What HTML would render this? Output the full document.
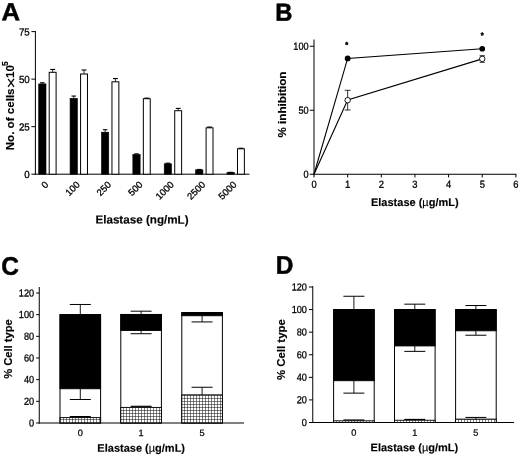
<!DOCTYPE html>
<html lang="en">
<head>
<meta charset="utf-8">
<title>Figure</title>
<style>
html,body{margin:0;padding:0;background:#fff;}
svg{display:block;}
text{font-family:'Liberation Sans', sans-serif;fill:#000;}
</style>
</head>
<body>
<svg width="520" height="456" viewBox="0 0 520 456">
<rect x="0" y="0" width="520" height="456" fill="#fff"/>
<g style="filter:blur(0.35px)">
<text transform="translate(1.6 20.35) rotate(0.05) scale(1.027 0.994)" font-size="25.0" font-weight="bold" stroke="#000" stroke-width="0.5">A</text>
<text transform="translate(275.25 20.85) rotate(0.05) scale(0.95 0.99)" font-size="25.0" font-weight="bold" stroke="#000" stroke-width="0.5">B</text>
<text transform="translate(1.25 274.65) rotate(0.05) scale(0.98 1.016)" font-size="25.0" font-weight="bold" stroke="#000" stroke-width="0.5">C</text>
<text transform="translate(275.65 273.75) rotate(0.05) scale(0.98 1.023)" font-size="25.0" font-weight="bold" stroke="#000" stroke-width="0.5">D</text>
<line x1="35.40" y1="31.10" x2="35.40" y2="174.70" stroke="#000" stroke-width="1"/>
<line x1="34.90" y1="174.20" x2="249.50" y2="174.20" stroke="#000" stroke-width="1"/>
<line x1="31.40" y1="174.20" x2="35.40" y2="174.20" stroke="#000" stroke-width="1"/>
<text transform="translate(29.80 178.10) rotate(0.05) scale(0.95 1)" font-size="10.3" text-anchor="end" stroke="#000" stroke-width="0.3">0</text>
<line x1="31.40" y1="126.67" x2="35.40" y2="126.67" stroke="#000" stroke-width="1"/>
<text transform="translate(29.80 130.57) rotate(0.05) scale(0.95 1)" font-size="10.3" text-anchor="end" stroke="#000" stroke-width="0.3">25</text>
<line x1="31.40" y1="79.13" x2="35.40" y2="79.13" stroke="#000" stroke-width="1"/>
<text transform="translate(29.80 83.03) rotate(0.05) scale(0.95 1)" font-size="10.3" text-anchor="end" stroke="#000" stroke-width="0.3">50</text>
<line x1="31.40" y1="31.60" x2="35.40" y2="31.60" stroke="#000" stroke-width="1"/>
<text transform="translate(29.80 35.50) rotate(0.05) scale(0.95 1)" font-size="10.3" text-anchor="end" stroke="#000" stroke-width="0.3">75</text>
<rect x="38.70" y="83.89" width="7.30" height="90.31" fill="#000" stroke="#000" stroke-width="0.6"/>
<line x1="42.35" y1="83.89" x2="42.35" y2="82.75" stroke="#000" stroke-width="0.8"/>
<line x1="40.10" y1="82.75" x2="44.60" y2="82.75" stroke="#000" stroke-width="1.1"/>
<rect x="49.20" y="72.29" width="6.90" height="101.91" fill="#fff" stroke="#000" stroke-width="1"/>
<line x1="52.65" y1="72.29" x2="52.65" y2="69.44" stroke="#000" stroke-width="0.8"/>
<line x1="50.20" y1="69.44" x2="55.10" y2="69.44" stroke="#000" stroke-width="1.1"/>
<text transform="translate(49.00 185.30) rotate(-45)" font-size="9.5" text-anchor="end" stroke="#000" stroke-width="0.3">0</text>
<rect x="70.08" y="98.34" width="7.30" height="75.86" fill="#000" stroke="#000" stroke-width="0.6"/>
<line x1="73.73" y1="98.34" x2="73.73" y2="96.06" stroke="#000" stroke-width="0.8"/>
<line x1="71.48" y1="96.06" x2="75.98" y2="96.06" stroke="#000" stroke-width="1.1"/>
<rect x="80.58" y="74.00" width="6.90" height="100.20" fill="#fff" stroke="#000" stroke-width="1"/>
<line x1="84.03" y1="74.00" x2="84.03" y2="70.01" stroke="#000" stroke-width="0.8"/>
<line x1="81.58" y1="70.01" x2="86.48" y2="70.01" stroke="#000" stroke-width="1.1"/>
<text transform="translate(80.38 185.30) rotate(-45)" font-size="9.5" text-anchor="end" stroke="#000" stroke-width="0.3">100</text>
<rect x="101.46" y="132.18" width="7.30" height="42.02" fill="#000" stroke="#000" stroke-width="0.6"/>
<line x1="105.11" y1="132.18" x2="105.11" y2="129.71" stroke="#000" stroke-width="0.8"/>
<line x1="102.86" y1="129.71" x2="107.36" y2="129.71" stroke="#000" stroke-width="1.1"/>
<rect x="111.96" y="81.80" width="6.90" height="92.40" fill="#fff" stroke="#000" stroke-width="1"/>
<line x1="115.41" y1="81.80" x2="115.41" y2="78.56" stroke="#000" stroke-width="0.8"/>
<line x1="112.96" y1="78.56" x2="117.86" y2="78.56" stroke="#000" stroke-width="1.1"/>
<text transform="translate(111.76 185.30) rotate(-45)" font-size="9.5" text-anchor="end" stroke="#000" stroke-width="0.3">250</text>
<rect x="132.84" y="154.43" width="7.30" height="19.77" fill="#000" stroke="#000" stroke-width="0.6"/>
<line x1="136.49" y1="154.43" x2="136.49" y2="153.86" stroke="#000" stroke-width="0.8"/>
<line x1="134.24" y1="153.86" x2="138.74" y2="153.86" stroke="#000" stroke-width="1.1"/>
<rect x="143.34" y="98.72" width="6.90" height="75.48" fill="#fff" stroke="#000" stroke-width="1"/>
<line x1="146.79" y1="98.72" x2="146.79" y2="98.15" stroke="#000" stroke-width="0.8"/>
<line x1="144.34" y1="98.15" x2="149.24" y2="98.15" stroke="#000" stroke-width="1.1"/>
<text transform="translate(143.14 185.30) rotate(-45)" font-size="9.5" text-anchor="end" stroke="#000" stroke-width="0.3">500</text>
<rect x="164.22" y="163.74" width="7.30" height="10.46" fill="#000" stroke="#000" stroke-width="0.6"/>
<line x1="167.87" y1="163.74" x2="167.87" y2="163.17" stroke="#000" stroke-width="0.8"/>
<line x1="165.62" y1="163.17" x2="170.12" y2="163.17" stroke="#000" stroke-width="1.1"/>
<rect x="174.72" y="110.70" width="6.90" height="63.50" fill="#fff" stroke="#000" stroke-width="1"/>
<line x1="178.17" y1="110.70" x2="178.17" y2="108.41" stroke="#000" stroke-width="0.8"/>
<line x1="175.72" y1="108.41" x2="180.62" y2="108.41" stroke="#000" stroke-width="1.1"/>
<text transform="translate(174.52 185.30) rotate(-45)" font-size="9.5" text-anchor="end" stroke="#000" stroke-width="0.3">1000</text>
<rect x="195.60" y="169.83" width="7.30" height="4.37" fill="#000" stroke="#000" stroke-width="0.6"/>
<line x1="199.25" y1="169.83" x2="199.25" y2="169.45" stroke="#000" stroke-width="0.8"/>
<line x1="197.00" y1="169.45" x2="201.50" y2="169.45" stroke="#000" stroke-width="1.1"/>
<rect x="206.10" y="127.81" width="6.90" height="46.39" fill="#fff" stroke="#000" stroke-width="1"/>
<line x1="209.55" y1="127.81" x2="209.55" y2="127.05" stroke="#000" stroke-width="0.8"/>
<line x1="207.10" y1="127.05" x2="212.00" y2="127.05" stroke="#000" stroke-width="1.1"/>
<text transform="translate(205.90 185.30) rotate(-45)" font-size="9.5" text-anchor="end" stroke="#000" stroke-width="0.3">2500</text>
<rect x="226.98" y="172.49" width="7.30" height="1.71" fill="#000" stroke="#000" stroke-width="0.6"/>
<line x1="230.63" y1="172.49" x2="230.63" y2="172.30" stroke="#000" stroke-width="0.8"/>
<line x1="228.38" y1="172.30" x2="232.88" y2="172.30" stroke="#000" stroke-width="1.1"/>
<rect x="237.48" y="148.82" width="6.90" height="25.38" fill="#fff" stroke="#000" stroke-width="1"/>
<line x1="240.93" y1="148.82" x2="240.93" y2="148.25" stroke="#000" stroke-width="0.8"/>
<line x1="238.48" y1="148.25" x2="243.38" y2="148.25" stroke="#000" stroke-width="1.1"/>
<text transform="translate(237.28 185.30) rotate(-45)" font-size="9.5" text-anchor="end" stroke="#000" stroke-width="0.3">5000</text>
<text transform="translate(142.00 223.60) rotate(0.05)" font-size="11.65" text-anchor="middle" font-weight="bold" stroke="#000" stroke-width="0.15">Elastase (ng/mL)</text>
<g transform="translate(14.2 150.3) rotate(-90)" font-weight="bold" font-size="11.6" stroke="#000" stroke-width="0.15"><text x="0" y="0">No. of cells</text><text transform="translate(67.4 2.0) scale(1.3 1)" font-size="15" font-weight="normal" stroke-width="0.1" text-anchor="middle">×</text><text x="72.4" y="0">10</text><text x="84.4" y="-6.6" font-size="8.6">5</text></g>
<line x1="314.00" y1="39.50" x2="314.00" y2="174.75" stroke="#000" stroke-width="1"/>
<line x1="313.50" y1="174.25" x2="516.40" y2="174.25" stroke="#000" stroke-width="1"/>
<line x1="309.80" y1="174.25" x2="314.00" y2="174.25" stroke="#000" stroke-width="1"/>
<text transform="translate(308.60 177.85) rotate(0.05) scale(0.9 1)" font-size="10.2" text-anchor="end" stroke="#000" stroke-width="0.3">0</text>
<line x1="309.80" y1="110.25" x2="314.00" y2="110.25" stroke="#000" stroke-width="1"/>
<text transform="translate(308.60 113.85) rotate(0.05) scale(0.9 1)" font-size="10.2" text-anchor="end" stroke="#000" stroke-width="0.3">50</text>
<line x1="309.80" y1="46.25" x2="314.00" y2="46.25" stroke="#000" stroke-width="1"/>
<text transform="translate(308.60 49.85) rotate(0.05) scale(0.9 1)" font-size="10.2" text-anchor="end" stroke="#000" stroke-width="0.3">100</text>
<line x1="314.00" y1="174.25" x2="314.00" y2="177.45" stroke="#000" stroke-width="1"/>
<text transform="translate(314.00 187.80) rotate(0.05) scale(0.92 1)" font-size="10.2" text-anchor="middle" stroke="#000" stroke-width="0.3">0</text>
<line x1="347.65" y1="174.25" x2="347.65" y2="177.45" stroke="#000" stroke-width="1"/>
<text transform="translate(347.65 187.80) rotate(0.05) scale(0.92 1)" font-size="10.2" text-anchor="middle" stroke="#000" stroke-width="0.3">1</text>
<line x1="381.30" y1="174.25" x2="381.30" y2="177.45" stroke="#000" stroke-width="1"/>
<text transform="translate(381.30 187.80) rotate(0.05) scale(0.92 1)" font-size="10.2" text-anchor="middle" stroke="#000" stroke-width="0.3">2</text>
<line x1="414.95" y1="174.25" x2="414.95" y2="177.45" stroke="#000" stroke-width="1"/>
<text transform="translate(414.95 187.80) rotate(0.05) scale(0.92 1)" font-size="10.2" text-anchor="middle" stroke="#000" stroke-width="0.3">3</text>
<line x1="448.60" y1="174.25" x2="448.60" y2="177.45" stroke="#000" stroke-width="1"/>
<text transform="translate(448.60 187.80) rotate(0.05) scale(0.92 1)" font-size="10.2" text-anchor="middle" stroke="#000" stroke-width="0.3">4</text>
<line x1="482.25" y1="174.25" x2="482.25" y2="177.45" stroke="#000" stroke-width="1"/>
<text transform="translate(482.25 187.80) rotate(0.05) scale(0.92 1)" font-size="10.2" text-anchor="middle" stroke="#000" stroke-width="0.3">5</text>
<line x1="515.90" y1="174.25" x2="515.90" y2="177.45" stroke="#000" stroke-width="1"/>
<text transform="translate(515.90 187.80) rotate(0.05) scale(0.92 1)" font-size="10.2" text-anchor="middle" stroke="#000" stroke-width="0.3">6</text>
<polyline fill="none" stroke="#000" stroke-width="1.1" points="314.0,174.25 347.65,58.4 482.25,48.75"/>
<polyline fill="none" stroke="#000" stroke-width="1.1" points="314.0,174.25 347.65,100 482.25,58.9"/>
<line x1="347.65" y1="90.30" x2="347.65" y2="110.00" stroke="#000" stroke-width="0.8"/>
<line x1="344.65" y1="90.30" x2="350.65" y2="90.30" stroke="#000" stroke-width="0.8"/>
<line x1="344.65" y1="110.00" x2="350.65" y2="110.00" stroke="#000" stroke-width="0.8"/>
<line x1="482.25" y1="55.70" x2="482.25" y2="62.30" stroke="#000" stroke-width="0.8"/>
<line x1="479.65" y1="55.70" x2="484.85" y2="55.70" stroke="#000" stroke-width="0.8"/>
<line x1="479.65" y1="62.30" x2="484.85" y2="62.30" stroke="#000" stroke-width="0.8"/>
<circle cx="347.65" cy="58.4" r="2.9" fill="#000"/>
<circle cx="482.25" cy="48.75" r="2.85" fill="#000"/>
<circle cx="347.65" cy="100.2" r="2.75" fill="#fff" stroke="#000" stroke-width="0.9"/>
<circle cx="482.25" cy="58.9" r="2.75" fill="#fff" stroke="#000" stroke-width="0.9"/>
<text transform="translate(346.75 47.30) rotate(0.05)" font-size="7.5" text-anchor="middle" font-weight="bold" stroke="#000" stroke-width="0.5">*</text>
<text transform="translate(482.15 37.80) rotate(0.05)" font-size="7.5" text-anchor="middle" font-weight="bold" stroke="#000" stroke-width="0.5">*</text>
<text transform="translate(414.80 206.00) rotate(0.05)" font-size="11.0" text-anchor="middle" font-weight="bold" stroke="#000" stroke-width="0.15">Elastase (<tspan font-weight="normal">µ</tspan>g/mL)</text>
<text transform="translate(286.0 104.5) rotate(-90)" font-size="11.65" font-weight="bold" stroke="#000" stroke-width="0.15" text-anchor="middle">% inhibition</text>
<line x1="39.25" y1="287.00" x2="39.25" y2="423.50" stroke="#000" stroke-width="1"/>
<line x1="38.75" y1="423.00" x2="244.00" y2="423.00" stroke="#000" stroke-width="1"/>
<line x1="36.15" y1="423.00" x2="39.25" y2="423.00" stroke="#000" stroke-width="1"/>
<text transform="translate(34.15 426.40) rotate(0.05) scale(0.9 1)" font-size="10.2" text-anchor="end" stroke="#000" stroke-width="0.3">0</text>
<line x1="36.15" y1="401.33" x2="39.25" y2="401.33" stroke="#000" stroke-width="1"/>
<text transform="translate(34.15 404.73) rotate(0.05) scale(0.9 1)" font-size="10.2" text-anchor="end" stroke="#000" stroke-width="0.3">20</text>
<line x1="36.15" y1="379.67" x2="39.25" y2="379.67" stroke="#000" stroke-width="1"/>
<text transform="translate(34.15 383.07) rotate(0.05) scale(0.9 1)" font-size="10.2" text-anchor="end" stroke="#000" stroke-width="0.3">40</text>
<line x1="36.15" y1="358.00" x2="39.25" y2="358.00" stroke="#000" stroke-width="1"/>
<text transform="translate(34.15 361.40) rotate(0.05) scale(0.9 1)" font-size="10.2" text-anchor="end" stroke="#000" stroke-width="0.3">60</text>
<line x1="36.15" y1="336.33" x2="39.25" y2="336.33" stroke="#000" stroke-width="1"/>
<text transform="translate(34.15 339.73) rotate(0.05) scale(0.9 1)" font-size="10.2" text-anchor="end" stroke="#000" stroke-width="0.3">80</text>
<line x1="36.15" y1="314.67" x2="39.25" y2="314.67" stroke="#000" stroke-width="1"/>
<text transform="translate(34.15 318.07) rotate(0.05) scale(0.9 1)" font-size="10.2" text-anchor="end" stroke="#000" stroke-width="0.3">100</text>
<line x1="36.15" y1="293.00" x2="39.25" y2="293.00" stroke="#000" stroke-width="1"/>
<text transform="translate(34.15 296.40) rotate(0.05) scale(0.9 1)" font-size="10.2" text-anchor="end" stroke="#000" stroke-width="0.3">120</text>
<rect x="60.00" y="314.67" width="40.60" height="108.33" fill="#fff" stroke="#000" stroke-width="1"/>
<defs><pattern id="h1" x="60" y="422" width="3" height="3" patternUnits="userSpaceOnUse"><rect width="3" height="3" fill="#fff"/><path d="M0 0.5H3M0.5 0V3" stroke="#1a1a1a" stroke-width="0.55" fill="none"/></pattern></defs>
<rect x="60.00" y="417.58" width="40.60" height="5.42" fill="url(#h1)" stroke="#000" stroke-width="0.9"/>
<rect x="60.00" y="314.67" width="40.60" height="74.10" fill="#000" stroke="#000" stroke-width="0.9"/>
<line x1="80.30" y1="314.67" x2="80.30" y2="304.48" stroke="#000" stroke-width="0.9"/>
<line x1="69.80" y1="304.48" x2="90.80" y2="304.48" stroke="#000" stroke-width="1"/>
<line x1="80.30" y1="388.77" x2="80.30" y2="399.49" stroke="#000" stroke-width="0.9"/>
<line x1="69.80" y1="399.49" x2="90.80" y2="399.49" stroke="#000" stroke-width="1"/>
<line x1="80.30" y1="417.58" x2="80.30" y2="416.72" stroke="#000" stroke-width="0.9"/>
<line x1="69.80" y1="416.72" x2="90.80" y2="416.72" stroke="#000" stroke-width="1.4"/>
<text transform="translate(80.30 436.00) rotate(0.05)" font-size="9.2" text-anchor="middle" stroke="#000" stroke-width="0.25">0</text>
<rect x="120.80" y="314.45" width="40.60" height="108.55" fill="#fff" stroke="#000" stroke-width="1"/>
<defs><pattern id="h2" x="120" y="422" width="3" height="3" patternUnits="userSpaceOnUse"><rect width="3" height="3" fill="#fff"/><path d="M0 0.5H3M0.5 0V3" stroke="#1a1a1a" stroke-width="0.55" fill="none"/></pattern></defs>
<rect x="120.80" y="407.40" width="40.60" height="15.60" fill="url(#h2)" stroke="#000" stroke-width="0.9"/>
<rect x="120.80" y="314.45" width="40.60" height="16.03" fill="#000" stroke="#000" stroke-width="0.9"/>
<line x1="141.10" y1="314.45" x2="141.10" y2="311.20" stroke="#000" stroke-width="0.9"/>
<line x1="130.60" y1="311.20" x2="151.60" y2="311.20" stroke="#000" stroke-width="1"/>
<line x1="141.10" y1="330.48" x2="141.10" y2="333.73" stroke="#000" stroke-width="0.9"/>
<line x1="130.60" y1="333.73" x2="151.60" y2="333.73" stroke="#000" stroke-width="1"/>
<line x1="141.10" y1="407.40" x2="141.10" y2="406.32" stroke="#000" stroke-width="0.9"/>
<line x1="130.60" y1="406.32" x2="151.60" y2="406.32" stroke="#000" stroke-width="1.2"/>
<text transform="translate(141.10 436.00) rotate(0.05)" font-size="9.2" text-anchor="middle" stroke="#000" stroke-width="0.25">1</text>
<rect x="181.80" y="312.61" width="40.60" height="110.39" fill="#fff" stroke="#000" stroke-width="1"/>
<defs><pattern id="h3" x="181" y="422" width="3" height="3" patternUnits="userSpaceOnUse"><rect width="3" height="3" fill="#fff"/><path d="M0 0.5H3M0.5 0V3" stroke="#1a1a1a" stroke-width="0.55" fill="none"/></pattern></defs>
<rect x="181.80" y="394.83" width="40.60" height="28.17" fill="url(#h3)" stroke="#000" stroke-width="0.9"/>
<rect x="181.80" y="312.61" width="40.60" height="3.14" fill="#000" stroke="#000" stroke-width="0.9"/>
<line x1="202.10" y1="315.75" x2="202.10" y2="321.93" stroke="#000" stroke-width="0.9"/>
<line x1="191.60" y1="321.93" x2="212.60" y2="321.93" stroke="#000" stroke-width="1"/>
<line x1="202.10" y1="394.83" x2="202.10" y2="387.25" stroke="#000" stroke-width="0.9"/>
<line x1="191.60" y1="387.25" x2="212.60" y2="387.25" stroke="#000" stroke-width="1"/>
<text transform="translate(202.10 436.00) rotate(0.05)" font-size="9.2" text-anchor="middle" stroke="#000" stroke-width="0.25">5</text>
<text transform="translate(141.20 451.70) rotate(0.05)" font-size="11.0" text-anchor="middle" font-weight="bold" stroke="#000" stroke-width="0.15">Elastase (<tspan font-weight="normal">µ</tspan>g/mL)</text>
<text transform="translate(12.1 349.0) rotate(-90)" font-size="11.2" font-weight="bold" stroke="#000" stroke-width="0.15" text-anchor="middle">% Cell type</text>
<line x1="312.75" y1="286.00" x2="312.75" y2="423.00" stroke="#000" stroke-width="1"/>
<line x1="312.25" y1="422.50" x2="514.00" y2="422.50" stroke="#000" stroke-width="1"/>
<line x1="308.95" y1="422.50" x2="312.75" y2="422.50" stroke="#000" stroke-width="1"/>
<text transform="translate(306.95 425.90) rotate(0.05) scale(0.9 1)" font-size="10.2" text-anchor="end" stroke="#000" stroke-width="0.3">0</text>
<line x1="308.95" y1="399.92" x2="312.75" y2="399.92" stroke="#000" stroke-width="1"/>
<text transform="translate(306.95 403.32) rotate(0.05) scale(0.9 1)" font-size="10.2" text-anchor="end" stroke="#000" stroke-width="0.3">20</text>
<line x1="308.95" y1="377.33" x2="312.75" y2="377.33" stroke="#000" stroke-width="1"/>
<text transform="translate(306.95 380.73) rotate(0.05) scale(0.9 1)" font-size="10.2" text-anchor="end" stroke="#000" stroke-width="0.3">40</text>
<line x1="308.95" y1="354.75" x2="312.75" y2="354.75" stroke="#000" stroke-width="1"/>
<text transform="translate(306.95 358.15) rotate(0.05) scale(0.9 1)" font-size="10.2" text-anchor="end" stroke="#000" stroke-width="0.3">60</text>
<line x1="308.95" y1="332.17" x2="312.75" y2="332.17" stroke="#000" stroke-width="1"/>
<text transform="translate(306.95 335.57) rotate(0.05) scale(0.9 1)" font-size="10.2" text-anchor="end" stroke="#000" stroke-width="0.3">80</text>
<line x1="308.95" y1="309.58" x2="312.75" y2="309.58" stroke="#000" stroke-width="1"/>
<text transform="translate(306.95 312.98) rotate(0.05) scale(0.9 1)" font-size="10.2" text-anchor="end" stroke="#000" stroke-width="0.3">100</text>
<line x1="308.95" y1="287.00" x2="312.75" y2="287.00" stroke="#000" stroke-width="1"/>
<text transform="translate(306.95 290.40) rotate(0.05) scale(0.9 1)" font-size="10.2" text-anchor="end" stroke="#000" stroke-width="0.3">120</text>
<rect x="333.60" y="309.58" width="40.60" height="112.92" fill="#fff" stroke="#000" stroke-width="1"/>
<defs><pattern id="h4" x="333" y="422" width="3" height="3" patternUnits="userSpaceOnUse"><rect width="3" height="3" fill="#fff"/><path d="M0 0.5H3M0.5 0V3" stroke="#1a1a1a" stroke-width="0.55" fill="none"/></pattern></defs>
<rect x="333.60" y="420.81" width="40.60" height="1.69" fill="url(#h4)" stroke="#000" stroke-width="0.9"/>
<rect x="333.60" y="309.58" width="40.60" height="71.14" fill="#000" stroke="#000" stroke-width="0.9"/>
<line x1="353.90" y1="309.58" x2="353.90" y2="296.26" stroke="#000" stroke-width="0.9"/>
<line x1="343.40" y1="296.26" x2="364.40" y2="296.26" stroke="#000" stroke-width="1"/>
<line x1="353.90" y1="380.72" x2="353.90" y2="393.14" stroke="#000" stroke-width="0.9"/>
<line x1="343.40" y1="393.14" x2="364.40" y2="393.14" stroke="#000" stroke-width="1"/>
<line x1="353.90" y1="420.81" x2="353.90" y2="420.02" stroke="#000" stroke-width="0.9"/>
<line x1="343.40" y1="420.02" x2="364.40" y2="420.02" stroke="#000" stroke-width="1.2"/>
<text transform="translate(353.90 435.80) rotate(0.05)" font-size="9.2" text-anchor="middle" stroke="#000" stroke-width="0.25">0</text>
<rect x="394.50" y="309.58" width="40.60" height="112.92" fill="#fff" stroke="#000" stroke-width="1"/>
<defs><pattern id="h5" x="394" y="422" width="3" height="3" patternUnits="userSpaceOnUse"><rect width="3" height="3" fill="#fff"/><path d="M0 0.5H3M0.5 0V3" stroke="#1a1a1a" stroke-width="0.55" fill="none"/></pattern></defs>
<rect x="394.50" y="420.24" width="40.60" height="2.26" fill="url(#h5)" stroke="#000" stroke-width="0.9"/>
<rect x="394.50" y="309.58" width="40.60" height="36.36" fill="#000" stroke="#000" stroke-width="0.9"/>
<line x1="414.80" y1="309.58" x2="414.80" y2="304.16" stroke="#000" stroke-width="0.9"/>
<line x1="404.30" y1="304.16" x2="425.30" y2="304.16" stroke="#000" stroke-width="1"/>
<line x1="414.80" y1="345.94" x2="414.80" y2="351.36" stroke="#000" stroke-width="0.9"/>
<line x1="404.30" y1="351.36" x2="425.30" y2="351.36" stroke="#000" stroke-width="1"/>
<line x1="414.80" y1="420.24" x2="414.80" y2="419.45" stroke="#000" stroke-width="0.9"/>
<line x1="404.30" y1="419.45" x2="425.30" y2="419.45" stroke="#000" stroke-width="1.2"/>
<text transform="translate(414.80 435.80) rotate(0.05)" font-size="9.2" text-anchor="middle" stroke="#000" stroke-width="0.25">1</text>
<rect x="455.60" y="309.58" width="40.60" height="112.92" fill="#fff" stroke="#000" stroke-width="1"/>
<defs><pattern id="h6" x="455" y="422" width="3" height="3" patternUnits="userSpaceOnUse"><rect width="3" height="3" fill="#fff"/><path d="M0 0.5H3M0.5 0V3" stroke="#1a1a1a" stroke-width="0.55" fill="none"/></pattern></defs>
<rect x="455.60" y="419.11" width="40.60" height="3.39" fill="url(#h6)" stroke="#000" stroke-width="0.9"/>
<rect x="455.60" y="309.58" width="40.60" height="21.23" fill="#000" stroke="#000" stroke-width="0.9"/>
<line x1="475.90" y1="309.58" x2="475.90" y2="305.52" stroke="#000" stroke-width="0.9"/>
<line x1="465.40" y1="305.52" x2="486.40" y2="305.52" stroke="#000" stroke-width="1"/>
<line x1="475.90" y1="330.81" x2="475.90" y2="335.22" stroke="#000" stroke-width="0.9"/>
<line x1="465.40" y1="335.22" x2="486.40" y2="335.22" stroke="#000" stroke-width="1"/>
<line x1="475.90" y1="419.11" x2="475.90" y2="417.42" stroke="#000" stroke-width="0.9"/>
<line x1="465.40" y1="417.42" x2="486.40" y2="417.42" stroke="#000" stroke-width="1"/>
<text transform="translate(475.90 435.80) rotate(0.05)" font-size="9.2" text-anchor="middle" stroke="#000" stroke-width="0.25">5</text>
<text transform="translate(414.40 451.20) rotate(0.05)" font-size="11.0" text-anchor="middle" font-weight="bold" stroke="#000" stroke-width="0.15">Elastase (<tspan font-weight="normal">µ</tspan>g/mL)</text>
<text transform="translate(285.0 349.6) rotate(-90)" font-size="11.4" font-weight="bold" stroke="#000" stroke-width="0.15" text-anchor="middle">% Cell type</text>
</g>
</svg>
</body>
</html>
